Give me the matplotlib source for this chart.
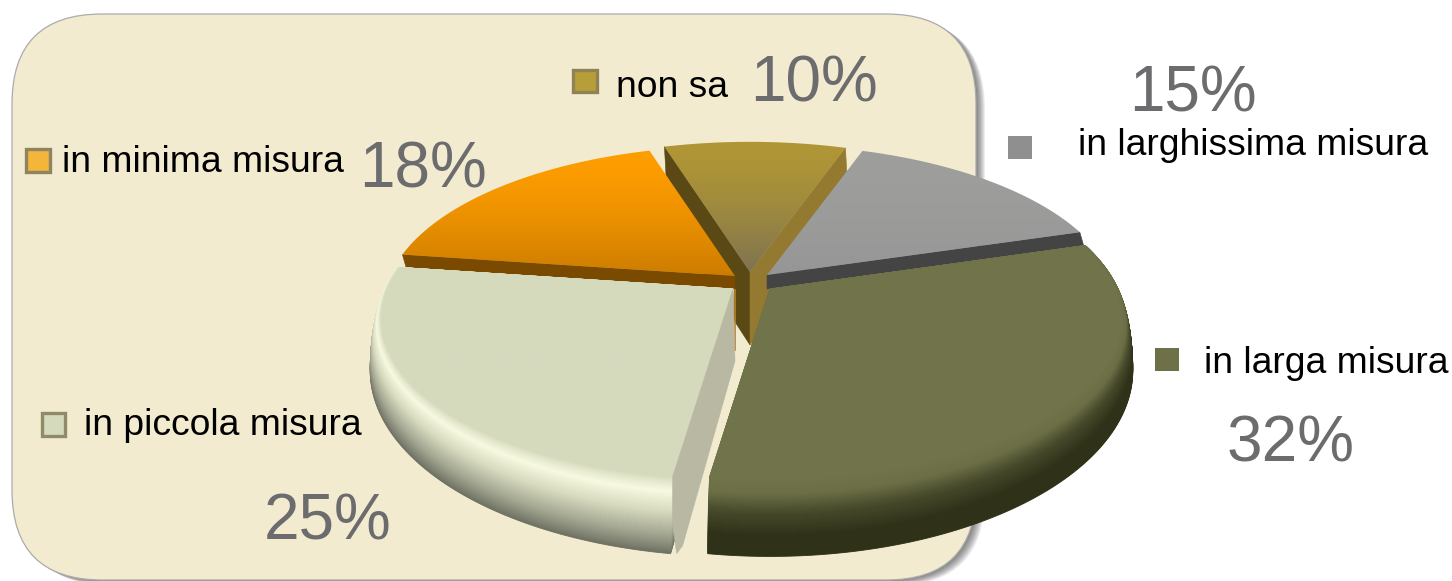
import numpy as np
import matplotlib
matplotlib.use("Agg")
import matplotlib.pyplot as plt
from matplotlib.patches import FancyBboxPatch, Polygon, Rectangle
from matplotlib.colors import LinearSegmentedColormap, to_rgb

# ---- data ----
categories = ["non sa", "in larghissima misura", "in larga misura", "in piccola misura", "in minima misura"]
values = [10, 15, 32, 25, 18]
percent_labels = ["10%", "15%", "32%", "25%", "18%"]

# ---- styles / layout ----
W, H = 1452, 581
plt.rcParams["font.family"] = ["Liberation Sans", "DejaVu Sans"]
CX, CY, RX, RY, K = 750, 283, 345, 154.5, 0.187
START = -17
GROW_X, GROW_Y, DEPTH = 0.033, 0.16, 47.0
offsets = [(0, -11), (17, -8), (20, 6), (-17, 6), (-15, -7)]
top_colors = [("#B09635", "#7E7350"), ("#9E9F9D", "#969696"), ("#71744A", "#71744A"),
              ("#D6DABD", "#D6DABD"), ("#FF9E00", "#CC7C00")]
rim_colors = {2: ["#71744A", "#6C6F45", "#45482A", "#2F3219", "#2F3219"],
              3: ["#D6DABD", "#F8FBE2", "#D8DBBF", "#A8AB95", "#6F7263"]}
wall_colors = {1: "#444444", 4: "#7A4A00"}
swatch_fill = ["#B89E38", "#8F8F8F", "#6E7147", "#D6DABD", "#F4B63A"]
swatch_edge = ["#8F8355", None, None, "#8F8B68", "#8F8460"]
swatch_xy = [(571, 68, 27, 25), (1008, 136, 24, 23), (1155, 348, 24, 23), (40, 411, 26, 26), (24, 147, 27, 26)]
label_xy = [(616, 97), (1078, 155), (1204, 373), (84, 435), (62, 172)]
percent_xy = [(814, 102), (1193, 112), (1291, 462), (328, 539), (423, 188)]
GRAY = "#6C6C6E"
PANEL = "#F2EBD0"

fig = plt.figure(figsize=(W / 100, H / 100), dpi=100)
ax = fig.add_axes([0, 0, 1, 1])

# ---- rounded panel with shadow ----
px0, py0, px1, py1, rad = 12, 14, 976, 580, 90
for i in range(9, 0, -1):
    ax.add_patch(FancyBboxPatch((px0 + rad + i, py0 + rad + 0.6 * i), px1 - px0 - 2 * rad, py1 - py0 - 2 * rad,
                                boxstyle=f"round,pad={rad}", fc="#303030", ec="none",
                                alpha=0.085, zorder=1))
ax.add_patch(FancyBboxPatch((px0 + rad, py0 + rad), px1 - px0 - 2 * rad, py1 - py0 - 2 * rad,
                            boxstyle=f"round,pad={rad}", fc=PANEL, ec="#ABABAB", lw=0.9, zorder=2))


def project(theta, fx=1.0, fy=1.0):
    t = np.radians(theta)
    x, y = np.sin(t), -np.cos(t)
    s = 1 / (1 - K * y)
    return RX * x * s * fx, RY * y * s * fy


def wedge(ax_, ay_, a0, a1, fx=1.0, fy=1.0, dy=0.0):
    th = np.linspace(a0, a1, 160)
    px, py = project(th, fx, fy)
    xs = np.r_[ax_, ax_ + px]
    ys = np.r_[ay_, ay_ + py] + dy
    return np.c_[xs, ys]


def edge_point(i, theta):
    ox, oy = offsets[i]
    px, py = project(theta)
    return CX + ox + px, CY + oy + py


edges = START + np.r_[0, np.cumsum(values)] * 3.6
z = [10]


def nz():
    z[0] += 1
    return z[0]


def gradient_top(i):
    a0, a1 = edges[i], edges[i + 1]
    ox, oy = offsets[i]
    pts = wedge(CX + ox, CY + oy, a0, a1)
    c0, c1 = map(np.array, map(to_rgb, top_colors[i]))
    g = np.linspace(0, 1, 128)[:, None, None] ** 1.5
    img = c0[None, None, :] * (1 - g) + c1[None, None, :] * g
    zz = nz()
    im = ax.imshow(img, extent=(pts[:, 0].min(), pts[:, 0].max(), pts[:, 1].max(), pts[:, 1].min()),
                   aspect="auto", zorder=zz, interpolation="bilinear")
    poly = Polygon(pts, closed=True, fc="none", ec="none", transform=ax.transData)
    ax.add_patch(poly)
    im.set_clip_path(poly)


def rim(i, n=90):
    a0, a1 = edges[i], edges[i + 1]
    ox, oy = offsets[i]
    cmap = LinearSegmentedColormap.from_list("r", rim_colors[i])
    for t in np.linspace(1, 0, n):
        e = np.sin(np.pi * t / 2)
        fx = 1 + GROW_X * e
        fy = 1 + GROW_Y * e
        dy = DEPTH * (1 - np.cos(np.pi * t / 2))
        ax.add_patch(Polygon(wedge(CX + ox, CY + oy, a0, a1, fx, fy, dy), closed=True,
                             fc=cmap(t), ec=cmap(t), lw=0.6, zorder=nz()))


def wall(i, theta, color, depth):
    ox, oy = offsets[i]
    ax_, ay_ = CX + ox, CY + oy
    ex, ey = edge_point(i, theta)
    ax.add_patch(Polygon([(ax_, ay_), (ex, ey), (ex + 4, ey + depth), (ax_, ay_ + depth)], closed=True,
                         fc=color, ec=color, lw=0.4, zorder=nz()))


# non sa: both cut faces visible
wall(0, edges[0], "#5A4914", 73)
wall(0, edges[1], "#937A30", 73)
gradient_top(0)
# larghissima
wall(1, edges[2], wall_colors[1], 14)
gradient_top(1)
# minima
wall(4, edges[4], wall_colors[4], 14)
gradient_top(4)
ox4, oy4 = offsets[4]
ax.plot([CX + ox4, CX + ox4], [CY + oy4 + 14, CY + oy4 + 74], color="#B5812A", lw=1.2, zorder=nz())
# piccola
rim(3)
gradient_top(3)
ox3, oy3 = offsets[3]
ex, ey = edge_point(3, edges[3])
px1_, py1_ = project(edges[3], 1 + GROW_X, 1 + GROW_Y)
ax.add_patch(Polygon([(CX + ox3, CY + oy3), (CX + ox3 + 2, CY + oy3 + 72),
                      (CX + ox3 + px1_ + 12, CY + oy3 + py1_ + DEPTH - 8),
                      (CX + ox3 + px1_ + 6, CY + oy3 + py1_ + DEPTH),
                      (CX + ox3 + px1_ + 2, CY + oy3 + py1_ + DEPTH - 30),
                      (ex, ey)], closed=True, fc="#B9B9A3", ec="#B9B9A3", lw=0.4, zorder=nz()))
# larga
rim(2)
gradient_top(2)

# ---- legend swatches and labels ----
top = nz() + 10
for (x, y, w, h), fc, ec in zip(swatch_xy, swatch_fill, swatch_edge):
    if ec:
        ax.add_patch(Rectangle((x + 1.5, y + 1.5), w - 3, h - 3, fc=fc, ec=ec, lw=2.4, zorder=top))
    else:
        ax.add_patch(Rectangle((x, y), w, h, fc=fc, ec="none", zorder=top))
for name, (x, y) in zip(categories, label_xy):
    ax.text(x, y, name, fontsize=26.8, color="#000000", ha="left", va="baseline", zorder=top)
for lab, (x, y) in zip(percent_labels, percent_xy):
    ax.text(x, y, lab, fontsize=46, color=GRAY, ha="center", va="baseline", zorder=top)

ax.set_xlim(0, W)
ax.set_ylim(H, 0)
ax.axis("off")
fig.savefig("out.png", dpi=100, facecolor="white")
